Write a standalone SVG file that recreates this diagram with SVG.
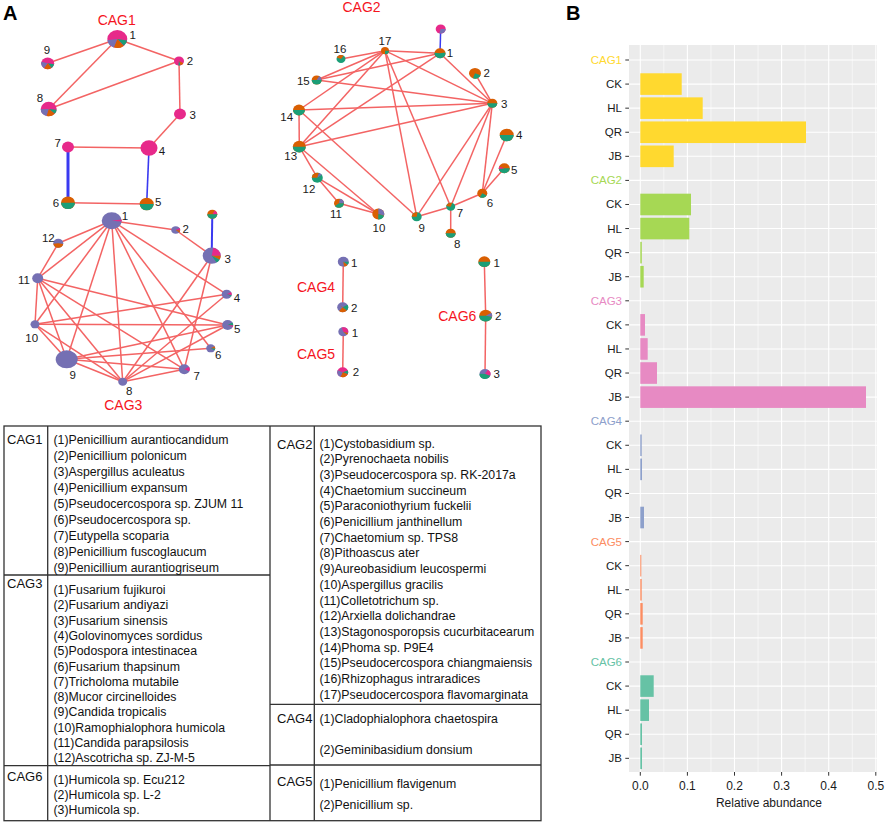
<svg xmlns="http://www.w3.org/2000/svg" width="886" height="824" viewBox="0 0 886 824">
<style>
text{font-family:"Liberation Sans",Arial,sans-serif}
.pl{font-size:20px;font-weight:bold;fill:#000}
.cag{font-size:14px;fill:#F5141E;text-anchor:middle}
.nl{font-size:11.5px;fill:#1a1a1a;text-anchor:middle}
.e line{stroke:#F36464;stroke-width:1.5}
.e line.b{stroke:#3A3AF0}
.fm{fill:#E7298A}.fp{fill:#7570B3}.fo{fill:#D95F02}.fg{fill:#1B9E77}
.s{fill:none}
.sm{stroke:#E7298A}.sp{stroke:#7570B3}.so{stroke:#D95F02}.sg{stroke:#1B9E77}
.tb{stroke:#333;stroke-width:1.3;fill:none}
.tt{font-size:12.3px;fill:#111}
.tc{font-size:13px;fill:#111}
.bg{fill:#EBEBEB}
.gmaj{stroke:#fff;stroke-width:1.1;fill:none}
.gmin{stroke:#fff;stroke-width:0.55;fill:none}
.tk{stroke:#333;stroke-width:1;fill:none}
.yl{font-size:11.5px;fill:#1a1a1a;text-anchor:end}
.xl{font-size:12px;fill:#1a1a1a;text-anchor:middle}
</style>
<rect width="886" height="824" fill="#fff"/>
<text class="pl" x="3" y="20">A</text>
<text class="pl" x="566" y="20">B</text>

<text class="cag" x="116.7" y="25">CAG1</text>
<text class="cag" x="361.5" y="12">CAG2</text>
<text class="cag" x="123.3" y="410">CAG3</text>
<text class="cag" x="316" y="291.7">CAG4</text>
<text class="cag" x="316" y="359.3">CAG5</text>
<text class="cag" x="457.3" y="321">CAG6</text>

<g id="connectors" class="e">
<line x1="117.3" y1="39" x2="47.7" y2="63.3"/>
<line x1="117.3" y1="39" x2="48.7" y2="109"/>
<line x1="117.3" y1="39" x2="179" y2="61"/>
<line x1="48.7" y1="109" x2="179" y2="61"/>
<line x1="179" y1="61" x2="180" y2="114"/>
<line x1="180" y1="114" x2="149" y2="148"/>
<line x1="68" y1="147" x2="149" y2="148"/>
<line x1="68" y1="202.7" x2="146.7" y2="204"/>
<line class="b" x1="68" y1="147" x2="68" y2="202.7" style="stroke-width:3"/>
<line class="b" x1="149" y1="148" x2="146.7" y2="204" style="stroke-width:1.6"/>

<line x1="385" y1="50.7" x2="341" y2="59"/>
<line x1="385" y1="50.7" x2="316.7" y2="80"/>
<line x1="385" y1="50.7" x2="440" y2="53.3"/>
<line x1="385" y1="50.7" x2="299" y2="110"/>
<line x1="385" y1="50.7" x2="299.3" y2="146.7"/>
<line x1="385" y1="50.7" x2="416.7" y2="216.7"/>
<line x1="385" y1="50.7" x2="450.7" y2="206.7"/>
<line x1="385" y1="50.7" x2="492.3" y2="103.3"/>
<line x1="440" y1="53.3" x2="316.7" y2="80"/>
<line x1="440" y1="53.3" x2="299.3" y2="146.7"/>
<line x1="440" y1="53.3" x2="492.3" y2="103.3"/>
<line x1="316.7" y1="80" x2="492.3" y2="103.3"/>
<line x1="299" y1="110" x2="492.3" y2="103.3"/>
<line x1="299.3" y1="146.7" x2="492.3" y2="103.3"/>
<line x1="299" y1="110" x2="299.3" y2="146.7"/>
<line x1="299" y1="110" x2="416.7" y2="216.7"/>
<line x1="299.3" y1="146.7" x2="317.3" y2="177.7"/>
<line x1="299.3" y1="146.7" x2="378.3" y2="214"/>
<line x1="317.3" y1="177.7" x2="339" y2="203.3"/>
<line x1="317.3" y1="177.7" x2="378.3" y2="214"/>
<line x1="339" y1="203.3" x2="378.3" y2="214"/>
<line x1="492.3" y1="103.3" x2="416.7" y2="216.7"/>
<line x1="492.3" y1="103.3" x2="450.7" y2="206.7"/>
<line x1="492.3" y1="103.3" x2="482.3" y2="193.3"/>
<line x1="492.3" y1="103.3" x2="475" y2="73.3"/>
<line x1="482.3" y1="193.3" x2="506.7" y2="135"/>
<line x1="482.3" y1="193.3" x2="504.3" y2="168.3"/>
<line x1="482.3" y1="193.3" x2="450.7" y2="206.7"/>
<line x1="450.7" y1="206.7" x2="416.7" y2="216.7"/>
<line x1="450.7" y1="206.7" x2="450.7" y2="233.3"/>
<line class="b" x1="440.7" y1="29" x2="440" y2="53.3"/>

<line x1="111.7" y1="220.7" x2="175.7" y2="230"/>
<line x1="175.7" y1="230" x2="211.7" y2="255.7"/>
<line x1="111.7" y1="220.7" x2="226.7" y2="294.3"/>
<line x1="111.7" y1="220.7" x2="210.7" y2="348.3"/>
<line x1="111.7" y1="220.7" x2="184.3" y2="369.3"/>
<line x1="111.7" y1="220.7" x2="122.7" y2="381.7"/>
<line x1="111.7" y1="220.7" x2="66.7" y2="359.3"/>
<line x1="111.7" y1="220.7" x2="35" y2="324.3"/>
<line x1="111.7" y1="220.7" x2="37.7" y2="278.3"/>
<line x1="111.7" y1="220.7" x2="58.3" y2="243.3"/>
<line x1="58.3" y1="243.3" x2="37.7" y2="278.3"/>
<line x1="37.7" y1="278.3" x2="35" y2="324.3"/>
<line x1="37.7" y1="278.3" x2="66.7" y2="359.3"/>
<line x1="37.7" y1="278.3" x2="122.7" y2="381.7"/>
<line x1="37.7" y1="278.3" x2="184.3" y2="369.3"/>
<line x1="37.7" y1="278.3" x2="227.7" y2="325"/>
<line x1="35" y1="324.3" x2="226.7" y2="294.3"/>
<line x1="35" y1="324.3" x2="227.7" y2="325"/>
<line x1="35" y1="324.3" x2="66.7" y2="359.3"/>
<line x1="35" y1="324.3" x2="122.7" y2="381.7"/>
<line x1="66.7" y1="359.3" x2="227.7" y2="325"/>
<line x1="66.7" y1="359.3" x2="210.7" y2="348.3"/>
<line x1="66.7" y1="359.3" x2="184.3" y2="369.3"/>
<line x1="66.7" y1="359.3" x2="122.7" y2="381.7"/>
<line x1="122.7" y1="381.7" x2="211.7" y2="255.7"/>
<line x1="122.7" y1="381.7" x2="226.7" y2="294.3"/>
<line x1="122.7" y1="381.7" x2="227.7" y2="325"/>
<line x1="122.7" y1="381.7" x2="184.3" y2="369.3"/>
<line x1="184.3" y1="369.3" x2="211.7" y2="255.7"/>
<line class="b" x1="211.7" y1="255.7" x2="212.3" y2="214.3" style="stroke-width:2"/>

<line x1="343.3" y1="261.7" x2="342.7" y2="307.3"/>
<line x1="343.3" y1="331.7" x2="342.7" y2="372.3"/>
<line x1="484.3" y1="261.7" x2="485.7" y2="315.7"/>
<line x1="485.7" y1="315.7" x2="485" y2="374"/>
</g>

<g id="cag1-n1"><g transform="translate(117.3 39) scale(1 .9)"><circle r="10" class="fm"/><circle class="s sg" r="5" stroke-width="10" pathLength="100" stroke-dasharray="11 100" transform="rotate(10)"/><circle class="s so" r="5" stroke-width="10" pathLength="100" stroke-dasharray="17 100" transform="rotate(50)"/><circle class="s sp" r="5" stroke-width="10" pathLength="100" stroke-dasharray="17 100" transform="rotate(110)"/></g><text class="nl" x="132.7" y="39">1</text></g>
<g id="cag1-n2"><g transform="translate(179 61) scale(1 .9)"><circle r="5" class="fm"/><circle class="s so" r="2.5" stroke-width="5" pathLength="100" stroke-dasharray="12 100" transform="rotate(30)"/><circle class="s sg" r="2.5" stroke-width="5" pathLength="100" stroke-dasharray="7 100" transform="rotate(73)"/></g><text class="nl" x="190" y="65">2</text></g>
<g id="cag1-n3"><g transform="translate(180 114) scale(1 .9)"><circle r="6" class="fm"/></g><text class="nl" x="192.7" y="119">3</text></g>
<g id="cag1-n4"><g transform="translate(149 148) scale(1 .9)"><circle r="8.5" class="fm"/></g><text class="nl" x="162" y="154.7">4</text></g>
<g id="cag1-n5"><g transform="translate(146.7 204) scale(1 .9)"><circle r="7" class="fo"/><circle class="s sg" r="3.5" stroke-width="7" pathLength="100" stroke-dasharray="50 100"/></g><text class="nl" x="158.3" y="205.7">5</text></g>
<g id="cag1-n6"><g transform="translate(68 202.7) scale(1 .9)"><circle r="7" class="fo"/><circle class="s sg" r="3.5" stroke-width="7" pathLength="100" stroke-dasharray="50 100"/></g><text class="nl" x="56" y="206.7">6</text></g>
<g id="cag1-n7"><g transform="translate(68 147) scale(1 .9)"><circle r="6" class="fm"/></g><text class="nl" x="57.7" y="146.7">7</text></g>
<g id="cag1-n8"><g transform="translate(48.7 109) scale(1 .9)"><circle r="8" class="fm"/><circle class="s sg" r="4" stroke-width="8" pathLength="100" stroke-dasharray="10 100" transform="rotate(5)"/><circle class="s so" r="4" stroke-width="8" pathLength="100" stroke-dasharray="18 100" transform="rotate(41)"/><circle class="s sp" r="4" stroke-width="8" pathLength="100" stroke-dasharray="20 100" transform="rotate(106)"/></g><text class="nl" x="40" y="101.7">8</text></g>
<g id="cag1-n9"><g transform="translate(47.7 63.3) scale(1 .9)"><circle r="6.5" class="fm"/><circle class="s sg" r="3.25" stroke-width="6.5" pathLength="100" stroke-dasharray="12 100" transform="rotate(10)"/><circle class="s so" r="3.25" stroke-width="6.5" pathLength="100" stroke-dasharray="19 100" transform="rotate(55)"/><circle class="s sp" r="3.25" stroke-width="6.5" pathLength="100" stroke-dasharray="19 100" transform="rotate(125)"/></g><text class="nl" x="47" y="54">9</text></g>

<g id="cag2-n0"><g transform="translate(440.7 29) scale(1 .9)"><circle r="5" class="fm"/><circle class="s sp" r="2.5" stroke-width="5" pathLength="100" stroke-dasharray="30 100"/></g></g>
<g id="cag2-n1"><g transform="translate(440 53.3) scale(1 .9)"><circle r="5.5" class="fo"/><circle class="s sg" r="2.75" stroke-width="5.5" pathLength="100" stroke-dasharray="55 100" transform="rotate(-10)"/></g><text class="nl" x="450" y="57.3">1</text></g>
<g id="cag2-n2"><g transform="translate(475 73.3) scale(1 .9)"><circle r="6" class="fo"/><circle class="s sg" r="3" stroke-width="6" pathLength="100" stroke-dasharray="25 100" transform="rotate(20)"/></g><text class="nl" x="486.7" y="76.7">2</text></g>
<g id="cag2-n3"><g transform="translate(492.3 103.3) scale(1 .9)"><circle r="5" class="fo"/><circle class="s sg" r="2.5" stroke-width="5" pathLength="100" stroke-dasharray="50 100"/></g><text class="nl" x="504.3" y="108.3">3</text></g>
<g id="cag2-n4"><g transform="translate(506.7 135) scale(1 .9)"><circle r="7" class="fo"/><circle class="s sg" r="3.5" stroke-width="7" pathLength="100" stroke-dasharray="50 100"/></g><text class="nl" x="519.3" y="139">4</text></g>
<g id="cag2-n5"><g transform="translate(504.3 168.3) scale(1 .9)"><circle r="5.5" class="fo"/><circle class="s sg" r="2.75" stroke-width="5.5" pathLength="100" stroke-dasharray="48 100"/><circle class="s sm" r="2.75" stroke-width="5.5" pathLength="100" stroke-dasharray="8 100" transform="rotate(172)"/></g><text class="nl" x="514.3" y="174">5</text></g>
<g id="cag2-n6"><g transform="translate(482.3 193.3) scale(1 .9)"><circle r="5" class="fo"/><circle class="s sg" r="2.5" stroke-width="5" pathLength="100" stroke-dasharray="25 100" transform="rotate(30)"/></g><text class="nl" x="490" y="207.3">6</text></g>
<g id="cag2-n7"><g transform="translate(450.7 206.7) scale(1 .9)"><circle r="4.5" class="fg"/><circle class="s so" r="2.25" stroke-width="4.5" pathLength="100" stroke-dasharray="28 100" transform="rotate(190)"/></g><text class="nl" x="460" y="217.3">7</text></g>
<g id="cag2-n8"><g transform="translate(450.7 233.3) scale(1 .9)"><circle r="5" class="fo"/><circle class="s sg" r="2.5" stroke-width="5" pathLength="100" stroke-dasharray="50 100"/></g><text class="nl" x="457.3" y="248.3">8</text></g>
<g id="cag2-n9"><g transform="translate(416.7 216.7) scale(1 .9)"><circle r="5" class="fg"/><circle class="s so" r="2.5" stroke-width="5" pathLength="100" stroke-dasharray="28 100" transform="rotate(180)"/></g><text class="nl" x="421.7" y="231.7">9</text></g>
<g id="cag2-n10"><g transform="translate(378.3 214) scale(1 .9)"><circle r="6" class="fo"/><circle class="s sp" r="3" stroke-width="6" pathLength="100" stroke-dasharray="30 100" transform="rotate(270)"/><circle class="s sg" r="3" stroke-width="6" pathLength="100" stroke-dasharray="20 100" transform="rotate(18)"/></g><text class="nl" x="379" y="231.7">10</text></g>
<g id="cag2-n11"><g transform="translate(339 203.3) scale(1 .9)"><circle r="5" class="fo"/><circle class="s sp" r="2.5" stroke-width="5" pathLength="100" stroke-dasharray="22 100" transform="rotate(280)"/><circle class="s sg" r="2.5" stroke-width="5" pathLength="100" stroke-dasharray="40 100" transform="rotate(0)"/></g><text class="nl" x="336" y="218.3">11</text></g>
<g id="cag2-n12"><g transform="translate(317.3 177.7) scale(1 .9)"><circle r="5.5" class="fg"/><circle class="s so" r="2.75" stroke-width="5.5" pathLength="100" stroke-dasharray="30 100" transform="rotate(180)"/><circle class="s sp" r="2.75" stroke-width="5.5" pathLength="100" stroke-dasharray="10 100" transform="rotate(288)"/></g><text class="nl" x="309" y="193.3">12</text></g>
<g id="cag2-n13"><g transform="translate(299.3 146.7) scale(1 .9)"><circle r="6.5" class="fo"/><circle class="s sg" r="3.25" stroke-width="6.5" pathLength="100" stroke-dasharray="50 100"/></g><text class="nl" x="290.7" y="160">13</text></g>
<g id="cag2-n14"><g transform="translate(299 110) scale(1 .9)"><circle r="6" class="fo"/><circle class="s sg" r="3" stroke-width="6" pathLength="100" stroke-dasharray="50 100"/></g><text class="nl" x="286.7" y="121.3">14</text></g>
<g id="cag2-n15"><g transform="translate(316.7 80) scale(1 .9)"><circle r="5" class="fo"/><circle class="s sp" r="2.5" stroke-width="5" pathLength="100" stroke-dasharray="17 100" transform="rotate(300)"/><circle class="s sg" r="2.5" stroke-width="5" pathLength="100" stroke-dasharray="50 100"/></g><text class="nl" x="303.3" y="84.7">15</text></g>
<g id="cag2-n16"><g transform="translate(341 59) scale(1 .9)"><circle r="4.5" class="fg"/><circle class="s so" r="2.25" stroke-width="4.5" pathLength="100" stroke-dasharray="30 100" transform="rotate(200)"/></g><text class="nl" x="340" y="53.3">16</text></g>
<g id="cag2-n17"><g transform="translate(385 50.7) scale(1 .9)"><circle r="4" class="fo"/><circle class="s sg" r="2" stroke-width="4" pathLength="100" stroke-dasharray="25 100"/></g><text class="nl" x="385" y="44.7">17</text></g>

<g id="cag3-n1"><g transform="translate(111.7 220.7) scale(1 .85)"><circle r="10" class="fp"/><circle class="s sm" r="5" stroke-width="10" pathLength="100" stroke-dasharray="4 100" transform="rotate(-8)"/></g><text class="nl" x="125" y="220">1</text></g>
<g id="cag3-n2"><g transform="translate(175.7 230) scale(1 .85)"><circle r="4.5" class="fp"/><circle class="s sm" r="2.25" stroke-width="4.5" pathLength="100" stroke-dasharray="10 100" transform="rotate(330)"/><circle class="s so" r="2.25" stroke-width="4.5" pathLength="100" stroke-dasharray="10 100" transform="rotate(6)"/></g><text class="nl" x="185.7" y="233.3">2</text></g>
<g id="cag3-n3"><g transform="translate(211.7 255.7) scale(1 .9)"><circle r="9" class="fp"/><circle class="s sm" r="4.5" stroke-width="9" pathLength="100" stroke-dasharray="22 100" transform="rotate(280)"/><circle class="s so" r="4.5" stroke-width="9" pathLength="100" stroke-dasharray="8 100" transform="rotate(0)"/><circle class="s sg" r="4.5" stroke-width="9" pathLength="100" stroke-dasharray="8 100" transform="rotate(29)"/></g><text class="nl" x="227.7" y="263">3</text></g>
<g id="cag3-n3b"><g transform="translate(212.3 214.3) scale(1 .9)"><circle r="5" class="fo"/><circle class="s sm" r="2.5" stroke-width="5" pathLength="100" stroke-dasharray="17 100" transform="rotate(300)"/><circle class="s sg" r="2.5" stroke-width="5" pathLength="100" stroke-dasharray="50 100"/></g></g>
<g id="cag3-n4"><g transform="translate(226.7 294.3) scale(1 .9)"><circle r="5" class="fp"/><circle class="s sm" r="2.5" stroke-width="5" pathLength="100" stroke-dasharray="12 100" transform="rotate(330)"/><circle class="s sg" r="2.5" stroke-width="5" pathLength="100" stroke-dasharray="5 100" transform="rotate(13)"/></g><text class="nl" x="237" y="301.7">4</text></g>
<g id="cag3-n5"><g transform="translate(227.7 325) scale(1 .9)"><circle r="5.5" class="fp"/><circle class="s sg" r="2.75" stroke-width="5.5" pathLength="100" stroke-dasharray="10 100" transform="rotate(330)"/><circle class="s sm" r="2.75" stroke-width="5.5" pathLength="100" stroke-dasharray="5 100" transform="rotate(6)"/></g><text class="nl" x="237.3" y="333.3">5</text></g>
<g id="cag3-n6"><g transform="translate(210.7 348.3) scale(1 .9)"><circle r="4.5" class="fp"/><circle class="s so" r="2.25" stroke-width="4.5" pathLength="100" stroke-dasharray="10 100" transform="rotate(330)"/><circle class="s sg" r="2.25" stroke-width="4.5" pathLength="100" stroke-dasharray="8 100" transform="rotate(6)"/></g><text class="nl" x="218.3" y="359">6</text></g>
<g id="cag3-n7"><g transform="translate(184.3 369.3) scale(1 .9)"><circle r="5.5" class="fp"/><circle class="s sm" r="2.75" stroke-width="5.5" pathLength="100" stroke-dasharray="15 100" transform="rotate(330)"/></g><text class="nl" x="196.7" y="379.7">7</text></g>
<g id="cag3-n8"><g transform="translate(122.7 381.7) scale(1 .9)"><circle r="4.5" class="fp"/></g><text class="nl" x="129.3" y="395">8</text></g>
<g id="cag3-n9"><g transform="translate(66.7 359.3) scale(1 .82)"><circle r="11" class="fp"/></g><text class="nl" x="72.7" y="379">9</text></g>
<g id="cag3-n10"><g transform="translate(35 324.3) scale(1 .9)"><circle r="4.5" class="fp"/></g><text class="nl" x="31.7" y="341.7">10</text></g>
<g id="cag3-n11"><g transform="translate(37.7 278.3) scale(1 .9)"><circle r="5.5" class="fp"/></g><text class="nl" x="24" y="284">11</text></g>
<g id="cag3-n12"><g transform="translate(58.3 243.3) scale(1 .9)"><circle r="5" class="fp"/><circle class="s so" r="2.5" stroke-width="5" pathLength="100" stroke-dasharray="45 100" transform="rotate(10)"/></g><text class="nl" x="48.3" y="241.7">12</text></g>

<g id="cag4-n1"><g transform="translate(343.3 261.7) scale(1 .9)"><circle r="5.5" class="fp"/><circle class="s sg" r="2.75" stroke-width="5.5" pathLength="100" stroke-dasharray="11 100" transform="rotate(0)"/><circle class="s so" r="2.75" stroke-width="5.5" pathLength="100" stroke-dasharray="12 100" transform="rotate(40)"/></g><text class="nl" x="354.3" y="266.7">1</text></g>
<g id="cag4-n2"><g transform="translate(342.7 307.3) scale(1 .9)"><circle r="5.5" class="fp"/><circle class="s sg" r="2.75" stroke-width="5.5" pathLength="100" stroke-dasharray="20 100" transform="rotate(330)"/><circle class="s so" r="2.75" stroke-width="5.5" pathLength="100" stroke-dasharray="25 100" transform="rotate(42)"/></g><text class="nl" x="354.3" y="312.3">2</text></g>
<g id="cag5-n1"><g transform="translate(343.3 331.7) scale(1 .9)"><circle r="5" class="fp"/><circle class="s sm" r="2.5" stroke-width="5" pathLength="100" stroke-dasharray="35 100" transform="rotate(250)"/><circle class="s so" r="2.5" stroke-width="5" pathLength="100" stroke-dasharray="8 100" transform="rotate(16)"/></g><text class="nl" x="355" y="336.7">1</text></g>
<g id="cag5-n2"><g transform="translate(342.7 372.3) scale(1 .9)"><circle r="5.5" class="fm"/><circle class="s sg" r="2.75" stroke-width="5.5" pathLength="100" stroke-dasharray="12 100" transform="rotate(340)"/><circle class="s so" r="2.75" stroke-width="5.5" pathLength="100" stroke-dasharray="25 100" transform="rotate(23)"/><circle class="s sp" r="2.75" stroke-width="5.5" pathLength="100" stroke-dasharray="25 100" transform="rotate(113)"/></g><text class="nl" x="356" y="376.3">2</text></g>
<g id="cag6-n1"><g transform="translate(484.3 261.7) scale(1 .9)"><circle r="6" class="fo"/><circle class="s sg" r="3" stroke-width="6" pathLength="100" stroke-dasharray="50 100"/></g><text class="nl" x="496.7" y="266.7">1</text></g>
<g id="cag6-n2"><g transform="translate(485.7 315.7) scale(1 .9)"><circle r="6.5" class="fo"/><circle class="s sg" r="3.25" stroke-width="6.5" pathLength="100" stroke-dasharray="47 100" transform="rotate(10)"/><circle class="s sp" r="3.25" stroke-width="6.5" pathLength="100" stroke-dasharray="11 100" transform="rotate(330)"/></g><text class="nl" x="498.3" y="320">2</text></g>
<g id="cag6-n3"><g transform="translate(485 374) scale(1 .9)"><circle r="5.5" class="fp"/><circle class="s sm" r="2.75" stroke-width="5.5" pathLength="100" stroke-dasharray="22 100" transform="rotate(300)"/><circle class="s sg" r="2.75" stroke-width="5.5" pathLength="100" stroke-dasharray="45 100" transform="rotate(20)"/></g><text class="nl" x="496.7" y="378">3</text></g>

<g id="table">
<rect class="tb" x="4" y="426" width="537" height="394.7"/>
<path class="tb" d="M47.7 426V820.7M270 426V820.7M314.3 426V820.7M4 575H270M4 765.7H270M270 704.3H541M270 765H541"/>
<text class="tc" x="7" y="443.5">CAG1</text>
<text class="tt" x="53.5" y="443.5">(1)Penicillium aurantiocandidum</text>
<text class="tt" x="53.5" y="459.5">(2)Penicillium polonicum</text>
<text class="tt" x="53.5" y="475.5">(3)Aspergillus aculeatus</text>
<text class="tt" x="53.5" y="491.5">(4)Penicillium expansum</text>
<text class="tt" x="53.5" y="507.5">(5)Pseudocercospora sp. ZJUM 11</text>
<text class="tt" x="53.5" y="523.5">(6)Pseudocercospora sp.</text>
<text class="tt" x="53.5" y="539.5">(7)Eutypella scoparia</text>
<text class="tt" x="53.5" y="555.5">(8)Penicillium fuscoglaucum</text>
<text class="tt" x="53.5" y="571.5">(9)Penicillium aurantiogriseum</text>
<text class="tc" x="7" y="588">CAG3</text>
<text class="tt" x="53.5" y="594">(1)Fusarium fujikuroi</text>
<text class="tt" x="53.5" y="609.3">(2)Fusarium andiyazi</text>
<text class="tt" x="53.5" y="624.6">(3)Fusarium sinensis</text>
<text class="tt" x="53.5" y="639.9">(4)Golovinomyces sordidus</text>
<text class="tt" x="53.5" y="655.2">(5)Podospora intestinacea</text>
<text class="tt" x="53.5" y="670.5">(6)Fusarium thapsinum</text>
<text class="tt" x="53.5" y="685.8">(7)Tricholoma mutabile</text>
<text class="tt" x="53.5" y="701.1">(8)Mucor circinelloides</text>
<text class="tt" x="53.5" y="716.4">(9)Candida tropicalis</text>
<text class="tt" x="53.5" y="731.7">(10)Ramophialophora humicola</text>
<text class="tt" x="53.5" y="747">(11)Candida parapsilosis</text>
<text class="tt" x="53.5" y="762.3">(12)Ascotricha sp. ZJ-M-5</text>
<text class="tc" x="7" y="781">CAG6</text>
<text class="tt" x="53.5" y="783.5">(1)Humicola sp. Ecu212</text>
<text class="tt" x="53.5" y="798.5">(2)Humicola sp. L-2</text>
<text class="tt" x="53.5" y="813.5">(3)Humicola sp.</text>
<text class="tc" x="277" y="449">CAG2</text>
<text class="tt" x="319.5" y="447.5">(1)Cystobasidium sp.</text>
<text class="tt" x="319.5" y="463.2">(2)Pyrenochaeta nobilis</text>
<text class="tt" x="319.5" y="478.9">(3)Pseudocercospora sp. RK-2017a</text>
<text class="tt" x="319.5" y="494.6">(4)Chaetomium succineum</text>
<text class="tt" x="319.5" y="510.3">(5)Paraconiothyrium fuckelii</text>
<text class="tt" x="319.5" y="526">(6)Penicillium janthinellum</text>
<text class="tt" x="319.5" y="541.7">(7)Chaetomium sp. TPS8</text>
<text class="tt" x="319.5" y="557.4">(8)Pithoascus ater</text>
<text class="tt" x="319.5" y="573.1">(9)Aureobasidium leucospermi</text>
<text class="tt" x="319.5" y="588.8">(10)Aspergillus gracilis</text>
<text class="tt" x="319.5" y="604.5">(11)Colletotrichum sp.</text>
<text class="tt" x="319.5" y="620.2">(12)Arxiella dolichandrae</text>
<text class="tt" x="319.5" y="635.9">(13)Stagonosporopsis cucurbitacearum</text>
<text class="tt" x="319.5" y="651.6">(14)Phoma sp. P9E4</text>
<text class="tt" x="319.5" y="667.3">(15)Pseudocercospora chiangmaiensis</text>
<text class="tt" x="319.5" y="683">(16)Rhizophagus intraradices</text>
<text class="tt" x="319.5" y="698.7">(17)Pseudocercospora flavomarginata</text>
<text class="tc" x="277" y="723">CAG4</text>
<text class="tt" x="319.5" y="723">(1)Cladophialophora chaetospira</text>
<text class="tt" x="319.5" y="754">(2)Geminibasidium donsium</text>
<text class="tc" x="277" y="786">CAG5</text>
<text class="tt" x="319.5" y="788">(1)Penicillium flavigenum</text>
<text class="tt" x="319.5" y="808.5">(2)Penicillium sp.</text>
</g>

<g id="barchart">
<rect class="bg" x="629" y="45" width="248" height="727"/>
<path class="gmin" d="M663.85 45V772M710.95 45V772M758.05 45V772M805.15 45V772M852.25 45V772"/>
<path class="gmaj" d="M640.3 45V772M687.4 45V772M734.5 45V772M781.6 45V772M828.7 45V772M875.8 45V772"/>
<path class="gmaj" d="M629 60H877M629 84.08H877M629 108.16H877M629 132.24H877M629 156.32H877M629 180.4H877M629 204.48H877M629 228.56H877M629 252.64H877M629 276.72H877M629 300.8H877M629 324.88H877M629 348.96H877M629 373.04H877M629 397.12H877M629 421.2H877M629 445.28H877M629 469.36H877M629 493.44H877M629 517.52H877M629 541.6H877M629 565.68H877M629 589.76H877M629 613.84H877M629 637.92H877M629 662H877M629 686.08H877M629 710.16H877M629 734.24H877M629 758.32H877"/>
<g fill="#FFD92F">
<rect x="640.3" y="73.28" width="41.4" height="21.6"/>
<rect x="640.3" y="97.36" width="62.4" height="21.6"/>
<rect x="640.3" y="121.44" width="165.7" height="21.6"/>
<rect x="640.3" y="145.52" width="33.4" height="21.6"/>
</g>
<g fill="#A6D854">
<rect x="640.3" y="193.68" width="50.7" height="21.6"/>
<rect x="640.3" y="217.76" width="49" height="21.6"/>
<rect x="640.3" y="241.84" width="1.5" height="21.6"/>
<rect x="640.3" y="265.92" width="3.4" height="21.6"/>
</g>
<g fill="#E78AC3">
<rect x="640.3" y="314.08" width="4.7" height="21.6"/>
<rect x="640.3" y="338.16" width="7.4" height="21.6"/>
<rect x="640.3" y="362.24" width="16.7" height="21.6"/>
<rect x="640.3" y="386.32" width="225.7" height="21.6"/>
</g>
<g fill="#8DA0CB">
<rect x="640.3" y="434.48" width="1.4" height="21.6"/>
<rect x="640.3" y="458.56" width="1.7" height="21.6"/>
<rect x="640.3" y="506.72" width="3.7" height="21.6"/>
</g>
<g fill="#FC8D62">
<rect x="640.3" y="554.88" width="1" height="21.6"/>
<rect x="640.3" y="578.96" width="1.4" height="21.6"/>
<rect x="640.3" y="603.04" width="2.4" height="21.6"/>
<rect x="640.3" y="627.12" width="2.4" height="21.6"/>
</g>
<g fill="#66C2A5">
<rect x="640.3" y="675.28" width="13.4" height="21.6"/>
<rect x="640.3" y="699.36" width="8.7" height="21.6"/>
<rect x="640.3" y="723.44" width="1.7" height="21.6"/>
<rect x="640.3" y="747.52" width="1.7" height="21.6"/>
</g>
<path class="tk" d="M625.3 60H629M625.3 84.08H629M625.3 108.16H629M625.3 132.24H629M625.3 156.32H629M625.3 180.4H629M625.3 204.48H629M625.3 228.56H629M625.3 252.64H629M625.3 276.72H629M625.3 300.8H629M625.3 324.88H629M625.3 348.96H629M625.3 373.04H629M625.3 397.12H629M625.3 421.2H629M625.3 445.28H629M625.3 469.36H629M625.3 493.44H629M625.3 517.52H629M625.3 541.6H629M625.3 565.68H629M625.3 589.76H629M625.3 613.84H629M625.3 637.92H629M625.3 662H629M625.3 686.08H629M625.3 710.16H629M625.3 734.24H629M625.3 758.32H629M640.3 772V775.7M687.4 772V775.7M734.5 772V775.7M781.6 772V775.7M828.7 772V775.7M875.8 772V775.7"/>
<text class="yl" x="622" y="64" style="fill:#FFD92F">CAG1</text>
<text class="yl" x="622" y="88.08">CK</text>
<text class="yl" x="622" y="112.16">HL</text>
<text class="yl" x="622" y="136.24">QR</text>
<text class="yl" x="622" y="160.32">JB</text>
<text class="yl" x="622" y="184.4" style="fill:#A6D854">CAG2</text>
<text class="yl" x="622" y="208.48">CK</text>
<text class="yl" x="622" y="232.56">HL</text>
<text class="yl" x="622" y="256.64">QR</text>
<text class="yl" x="622" y="280.72">JB</text>
<text class="yl" x="622" y="304.8" style="fill:#E78AC3">CAG3</text>
<text class="yl" x="622" y="328.88">CK</text>
<text class="yl" x="622" y="352.96">HL</text>
<text class="yl" x="622" y="377.04">QR</text>
<text class="yl" x="622" y="401.12">JB</text>
<text class="yl" x="622" y="425.2" style="fill:#8DA0CB">CAG4</text>
<text class="yl" x="622" y="449.28">CK</text>
<text class="yl" x="622" y="473.36">HL</text>
<text class="yl" x="622" y="497.44">QR</text>
<text class="yl" x="622" y="521.52">JB</text>
<text class="yl" x="622" y="545.6" style="fill:#FC8D62">CAG5</text>
<text class="yl" x="622" y="569.68">CK</text>
<text class="yl" x="622" y="593.76">HL</text>
<text class="yl" x="622" y="617.84">QR</text>
<text class="yl" x="622" y="641.92">JB</text>
<text class="yl" x="622" y="666" style="fill:#66C2A5">CAG6</text>
<text class="yl" x="622" y="690.08">CK</text>
<text class="yl" x="622" y="714.16">HL</text>
<text class="yl" x="622" y="738.24">QR</text>
<text class="yl" x="622" y="762.32">JB</text>
<text class="xl" x="640.3" y="790">0.0</text>
<text class="xl" x="687.4" y="790">0.1</text>
<text class="xl" x="734.5" y="790">0.2</text>
<text class="xl" x="781.6" y="790">0.3</text>
<text class="xl" x="828.7" y="790">0.4</text>
<text class="xl" x="875.8" y="790">0.5</text>
<text class="xl" x="769" y="807">Relative abundance</text>
</g>
</svg>
